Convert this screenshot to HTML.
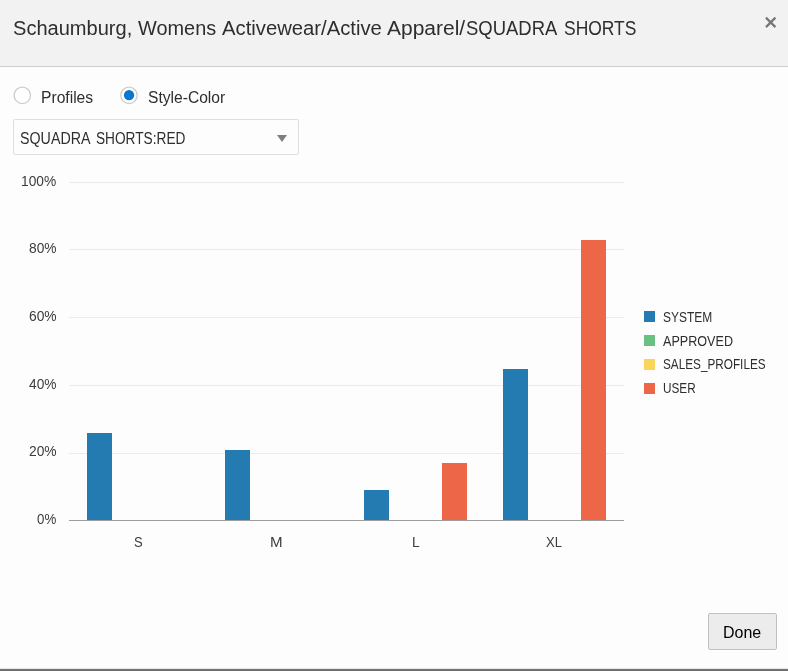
<!DOCTYPE html>
<html lang="en">
<head>
<meta charset="utf-8">
<title>Schaumburg, Womens Activewear/Active Apparel/SQUADRA SHORTS</title>
<style>
  html, body { margin: 0; padding: 0; }
  body {
    width: 788px; height: 671px; overflow: hidden; position: relative;
    background: #fdfdfd;
    font-family: "Liberation Sans", sans-serif;
    color: #333;
  }
  .tx {
    position: absolute; display: block; white-space: nowrap; line-height: 24px;
    font-family: "Liberation Sans", sans-serif; transform-origin: 0 50%;
  }
  #header {
    position: absolute; left: 0; top: 0; width: 788px; height: 66px;
    background: #f2f2f2; border-bottom: 1px solid #cfcfcf;
  }
  #title { margin: 0; font-weight: normal; font-size: 20px; }
  #close { position: absolute; left: 760px; top: 10px; width: 24px; height: 24px; }
  .radio { position: absolute; left: 8px; top: 81px; width: 135px; height: 28px; overflow: visible; }
  #select {
    position: absolute; left: 13px; top: 119px; width: 284px; height: 34px;
    border: 1px solid #dddfe0; border-radius: 2px; background: #fdfdfd;
  }
  #selarrow { position: absolute; left: 262.6px; top: 15px; width: 0; height: 0;
    border-left: 5.8px solid transparent; border-right: 5.8px solid transparent; border-top: 7px solid #7e7e7e; }
  #chart { position: absolute; left: 0; top: 160px; }
  #done {
    position: absolute; left: 708px; top: 613px; width: 67px; height: 35px;
    border: 1px solid #c0c0c0; border-radius: 2px; background: #ececec;
    box-shadow: 0 0 0 1px #fff;
    padding: 0; margin: 0; box-sizing: content-box; text-align: left; font-size: 16px;
  }
  #bottom { position: absolute; left: 0; top: 668px; width: 788px; height: 3px;
    background: linear-gradient(#e6e6e6 0, #e6e6e6 1px, #767676 1px, #767676 2px, #6c6c6c 2px); }
</style>
</head>
<body>
  <div id="header">
    <h1 id="title"><span class="tx" id="t1" style="left:13.00px;top:16.00px;font-size:19.5px;color:#2e2e2e;transform:scaleX(1.0284)">Schaumburg,</span> <span class="tx" id="t2" style="left:137.77px;top:16.00px;font-size:19.5px;color:#2e2e2e;transform:scaleX(1.0205)">Womens</span> <span class="tx" id="t3" style="left:221.77px;top:16.00px;font-size:19.5px;color:#2e2e2e;transform:scaleX(1.0388)">Activewear/Active</span> <span class="tx" id="t4" style="left:387.37px;top:16.00px;font-size:19.5px;color:#2e2e2e;transform:scaleX(1.0759)">Apparel/</span><span class="tx" id="t5" style="left:466.07px;top:16.00px;font-size:19.5px;color:#2e2e2e;transform:scaleX(0.9466)">SQUADRA</span> <span class="tx" id="t6" style="left:564.02px;top:16.00px;font-size:19.5px;color:#2e2e2e;transform:scaleX(0.8948)">SHORTS</span></h1>
    <svg id="close" viewBox="760 10 24 24"><path d="M765.95 17.65 L775.45 27.15 M775.45 17.65 L765.95 27.15" stroke="#767676" stroke-width="2.2" fill="none"/></svg>
  </div>

  <svg class="radio" viewBox="8 81 135 28"><circle cx="22.3" cy="95.35" r="8.2" fill="#fff" stroke="#cdcdcd" stroke-width="1.3"/><circle cx="129.0" cy="95.3" r="8.2" fill="#fff" stroke="#cdcdcd" stroke-width="1.3"/><circle cx="129.05" cy="95.2" r="5.15" fill="#0a76cf"/></svg>
  <label><span class="tx" id="r1" style="left:40.56px;top:86.00px;font-size:16px;color:#2e2e2e;transform:scaleX(0.9771)">Profiles</span></label>
  <label><span class="tx" id="r2" style="left:148.07px;top:86.00px;font-size:16px;color:#2e2e2e;transform:scaleX(0.9754)">Style-Color</span></label>

  <div id="select" role="combobox" aria-label="Style-Color"><span class="tx" id="s1" style="left:5.63px;top:7.00px;font-size:16px;color:#2e2e2e;transform:scaleX(0.8906)">SQUADRA</span> <span class="tx" id="s2" style="left:81.76px;top:7.00px;font-size:16px;color:#2e2e2e;transform:scaleX(0.8543)">SHORTS:RED</span><span id="selarrow"></span></div>

  <svg id="chart" width="788" height="420" viewBox="0 160 788 420">
    <g shape-rendering="crispEdges">
      <rect x="69" y="182" width="555" height="1" fill="#eaebec"/>
      <rect x="69" y="249" width="555" height="1" fill="#eaebec"/>
      <rect x="69" y="317" width="555" height="1" fill="#eaebec"/>
      <rect x="69" y="385" width="555" height="1" fill="#eaebec"/>
      <rect x="69" y="453" width="555" height="1" fill="#eaebec"/>
      <rect x="87" y="433" width="25" height="87" fill="#237bb1"/>
      <rect x="225" y="450" width="25" height="70" fill="#237bb1"/>
      <rect x="364" y="490" width="25" height="30" fill="#237bb1"/>
      <rect x="442" y="463" width="25" height="57" fill="#ed6647"/>
      <rect x="503" y="369" width="25" height="151" fill="#237bb1"/>
      <rect x="581" y="240" width="25" height="280" fill="#ed6647"/>
      <rect x="69" y="520" width="555" height="1" fill="#9e9e9e"/>
      <rect x="644" y="311" width="11" height="11" fill="#237bb1"/>
      <rect x="644" y="335" width="11" height="11" fill="#68c182"/>
      <rect x="644" y="359" width="11" height="11" fill="#fad55c"/>
      <rect x="644" y="383" width="11" height="11" fill="#ed6647"/>
    </g>
  </svg>
  <span class="tx" id="y5" style="left:21.00px;top:169.00px;font-size:14px;color:#3c3c3c;transform:scaleX(0.9817)">100%</span> <span class="tx" id="y4" style="left:28.59px;top:236.00px;font-size:14px;color:#3c3c3c;transform:scaleX(0.9823)">80%</span> <span class="tx" id="y3" style="left:29.16px;top:304.00px;font-size:14px;color:#3c3c3c;transform:scaleX(0.9869)">60%</span> <span class="tx" id="y2" style="left:28.63px;top:372.00px;font-size:14px;color:#3c3c3c;transform:scaleX(0.9806)">40%</span> <span class="tx" id="y1" style="left:29.16px;top:439.00px;font-size:14px;color:#3c3c3c;transform:scaleX(0.9869)">20%</span> <span class="tx" id="y0" style="left:36.82px;top:507.00px;font-size:14px;color:#3c3c3c;transform:scaleX(0.9506)">0%</span>
  <span class="tx" id="xS" style="left:134.14px;top:530.00px;font-size:14px;color:#3c3c3c;transform:scaleX(0.9300)">S</span> <span class="tx" id="xM" style="left:270.17px;top:530.00px;font-size:14px;color:#3c3c3c;transform:scaleX(1.0800)">M</span> <span class="tx" id="xL" style="left:411.88px;top:530.00px;font-size:14px;color:#3c3c3c;transform:scaleX(0.9920)">L</span> <span class="tx" id="xX" style="left:546.44px;top:530.00px;font-size:14px;color:#3c3c3c;transform:scaleX(0.9300)">XL</span>
  <span class="tx" id="l1" style="left:662.97px;top:305.00px;font-size:14px;color:#2e2e2e;transform:scaleX(0.8556)">SYSTEM</span> <span class="tx" id="l2" style="left:663.30px;top:329.00px;font-size:14px;color:#2e2e2e;transform:scaleX(0.8998)">APPROVED</span> <span class="tx" id="l3" style="left:662.61px;top:352.00px;font-size:14px;color:#2e2e2e;transform:scaleX(0.8400)">SALES_PROFILES</span> <span class="tx" id="l4" style="left:662.76px;top:376.00px;font-size:14px;color:#2e2e2e;transform:scaleX(0.8400)">USER</span>

  <button id="done" type="button"><span class="tx" id="d1" style="left:13.83px;top:7.00px;font-size:16px;color:#000;transform:scaleX(0.9993)">Done</span></button>
  <div id="bottom"></div>
</body>
</html>
